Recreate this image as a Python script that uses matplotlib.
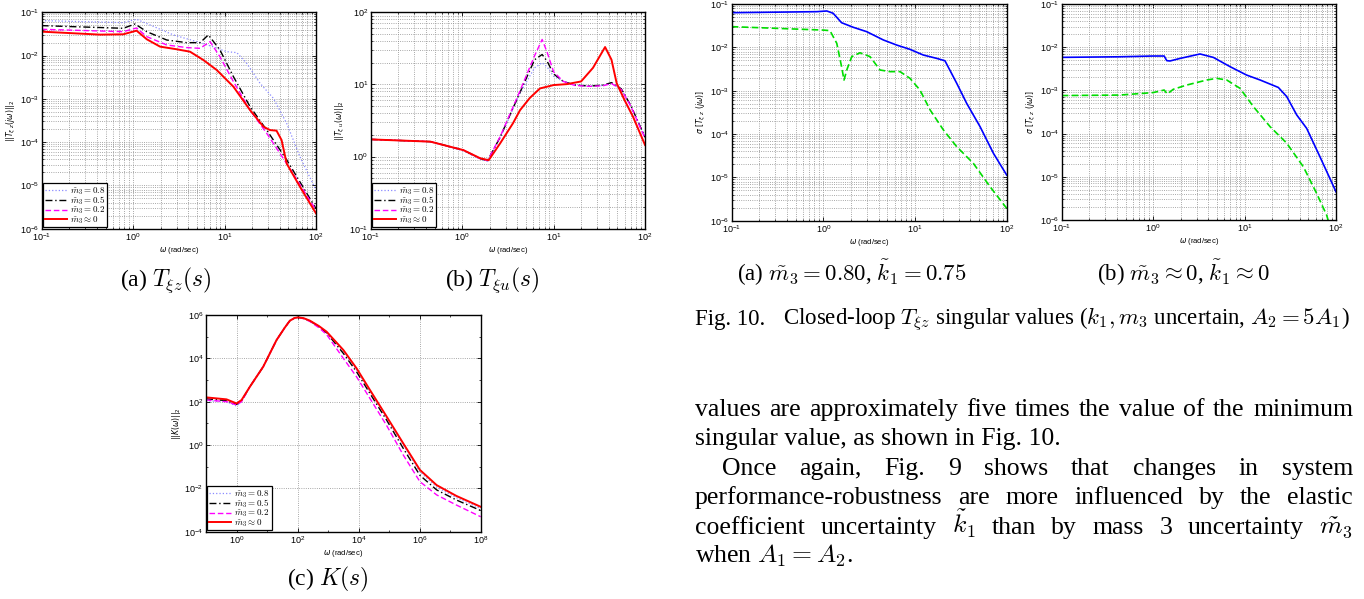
import matplotlib
matplotlib.use("Agg")
import matplotlib.pyplot as plt
from matplotlib.ticker import LogLocator, NullFormatter

plt.rcParams["font.family"] = ["Liberation Sans", "DejaVu Sans"]
plt.rcParams["mathtext.fontset"] = "dejavusans"

# ---------------- data ----------------
# (a) ||T_xi_z(jw)||_2
tz_w_08 = [0.1, 0.78, 1.09, 1.53, 2.76, 4.96, 7.5, 10.5, 13.6, 17.5, 24.4, 34.2, 47.8, 66.8, 100]
tz_08 = [0.0642, 0.0577, 0.069, 0.051, 0.030, 0.021, 0.016, 0.0123, 0.0117, 0.0066, 0.0023, 0.00103, 2.7e-4, 4.6e-5, 7.8e-6]
tz_w_05 = [0.1, 0.78, 1.05, 1.41, 2.33, 3.85, 5.4, 6.65, 8.9, 12.5, 19, 28.9, 47.8, 100]
tz_05 = [0.0492, 0.0427, 0.0537, 0.0357, 0.0229, 0.0199, 0.0199, 0.030, 0.0135, 0.00326, 6.6e-4, 1.9e-4, 3.9e-5, 2.9e-6]
tz_w_02 = [0.1, 0.78, 1.09, 1.41, 2.33, 3.85, 5.4, 6.94, 8.9, 12.5, 19, 28.9, 47.8, 100]
tz_02 = [0.0405, 0.0357, 0.0435, 0.0274, 0.0176, 0.0153, 0.0147, 0.021, 0.0094, 0.0025, 5.5e-4, 1.6e-4, 3.2e-5, 2.7e-6]
tz_w_00 = [0.1, 0.435, 0.78, 1.09, 1.41, 1.97, 2.99, 4.19, 5.86, 8.2, 12.5, 19, 26.6, 31.4, 37, 42, 47.8, 66.8, 100]
tz_00 = [0.0357, 0.0305, 0.031, 0.0377, 0.0238, 0.0161, 0.014, 0.0123, 0.0079, 0.00465, 0.00191, 5.5e-4, 2.28e-4, 1.9e-4, 1.84e-4, 1.12e-4, 3.2e-5, 9.3e-6, 2.26e-6]

# (b) ||T_xi_u(w)||_2
tu_w = [0.1, 0.45, 1.03, 1.57, 1.9, 2.6, 4.3, 6.2, 7.5, 8.5, 10, 12.8, 17, 25, 35, 43, 55, 70, 100]
tu_08 = [1.73, 1.61, 1.2, 0.92, 0.86, 1.8, 7.6, 17, 20, 17.5, 13, 11, 9.8, 9.5, 9.7, 10.4, 8.6, 5.0, 1.9]
tu_05 = [1.73, 1.61, 1.23, 0.94, 0.88, 1.85, 7.8, 22, 26, 21, 14, 11, 9.8, 9.5, 9.8, 10.6, 8.7, 5.1, 1.85]
tu_02 = [1.73, 1.61, 1.23, 0.94, 0.88, 1.88, 8.2, 25, 42, 28, 15, 11, 9.7, 9.4, 9.6, 10.3, 8.5, 5.0, 1.8]
tu_w_00 = [0.1, 0.45, 1.03, 1.57, 1.95, 2.6, 3.6, 4.3, 5.5, 7.1, 10, 14, 20, 27, 36.6, 43, 49, 60, 74, 100]
tu_00 = [1.73, 1.61, 1.23, 0.95, 0.89, 1.52, 2.9, 4.4, 6.5, 8.8, 9.8, 10.1, 11, 17, 33, 22, 10.4, 6, 3.56, 1.45]

# (c) ||K(w)||_2
k_w = [0.1, 0.47, 1.0, 1.46, 2.74, 7.5, 20.5, 38, 56, 80, 105, 160, 254, 500, 893, 3160, 8560, 23500, 83000, 2.9e5, 1.02e6, 3.6e6, 1.6e7, 1e8]
k_08 = [110, 100, 63, 100, 490, 4120, 7.0e4, 2.6e5, 5.47e5, 7.3e5, 7.8e5, 7.0e5, 5.4e5, 3.0e5, 1.6e5, 2.1e4, 3000, 300, 17.5, 1.0, 0.058, 0.0115, 0.0037, 0.00118]
k_05 = [135, 112, 75, 110, 490, 4120, 7.0e4, 2.6e5, 5.47e5, 7.3e5, 7.8e5, 6.9e5, 5.3e5, 2.9e5, 1.5e5, 1.7e4, 2400, 240, 14, 0.7, 0.04, 0.0085, 0.0029, 0.00095]
k_02 = [120, 100, 71, 100, 490, 4120, 7.0e4, 2.6e5, 5.47e5, 7.3e5, 7.8e5, 6.7e5, 5.0e5, 2.6e5, 1.26e5, 1.0e4, 1410, 141, 7.9, 0.347, 0.0204, 0.005, 0.0017, 0.00049]
k_00 = [158, 128, 83, 119, 490, 4120, 7.0e4, 2.6e5, 5.47e5, 7.3e5, 7.8e5, 7.1e5, 5.47e5, 3.1e5, 1.7e5, 2.43e4, 3470, 347, 20.4, 1.19, 0.071, 0.0141, 0.00447, 0.00141]

# Fig. 10 (a): m3 = 0.80, k1 = 0.75
sa_w_max = [0.1, 0.845, 1.09, 1.28, 1.58, 2.12, 2.97, 4.51, 6.3, 8.8, 12.3, 17.2, 21.2, 28.5, 36.6, 51.2, 71.6, 100]
sa_max = [0.063, 0.0665, 0.069, 0.061, 0.037, 0.029, 0.023, 0.0148, 0.0113, 0.009, 0.00665, 0.00557, 0.0049, 0.00148, 5.1e-4, 1.48e-4, 3.6e-5, 1.13e-5]
sa_w_min = [0.1, 1.0, 1.18, 1.4, 1.58, 1.68, 1.8, 2.04, 2.51, 3.23, 4.15, 5.33, 6.86, 8.8, 11.3, 14.6, 20.4, 28.5, 43.3, 65.8, 100]
sa_min = [0.030, 0.025, 0.0243, 0.0124, 0.00358, 0.00176, 0.003, 0.0061, 0.0075, 0.0061, 0.003, 0.00275, 0.00275, 0.00193, 0.00104, 3.6e-4, 1.24e-4, 5.1e-5, 2.1e-5, 6.1e-6, 1.93e-6]

# Fig. 10 (b): m3 ~ 0, k1 ~ 0
sb_w_max = [0.1, 0.43, 1.0, 1.32, 1.41, 1.53, 1.97, 3.26, 4.56, 6.93, 10.5, 14.8, 23.4, 28.9, 37.2, 47.8, 66.8, 100]
sb_max = [0.00582, 0.0060, 0.00625, 0.00625, 0.00488, 0.0048, 0.0055, 0.00697, 0.0058, 0.00355, 0.00227, 0.00174, 0.00117, 7.2e-4, 2.7e-4, 1.32e-4, 2.9e-5, 4.5e-6]
sb_w_min = [0.1, 0.43, 1.0, 1.32, 1.43, 1.66, 2.33, 3.86, 4.96, 6.38, 8.9, 12.5, 19, 28.9, 44, 61.5, 79, 86]
sb_min = [7.6e-4, 7.8e-4, 8.9e-4, 0.00102, 8.3e-4, 0.00106, 0.00133, 0.00174, 0.0019, 0.00174, 0.00112, 4.2e-4, 1.45e-4, 6e-5, 1.7e-5, 4.1e-6, 1.3e-6, 7e-7]

legend_labels = [r"$\tilde{m}_3 = 0.8$", r"$\tilde{m}_3 = 0.5$", r"$\tilde{m}_3 = 0.2$", r"$\tilde{m}_3 \approx 0$"]

# ---------------- figure ----------------
W, H = 1364, 599
fig = plt.figure(figsize=(W / 100, H / 100), dpi=100)


def box(l, t, r, b):
    return fig.add_axes([l / W, 1 - b / H, (r - l) / W, (b - t) / H])


def style(ax, xlim, ylim, ylabel, step=10):
    ax.set_xscale("log")
    ax.set_yscale("log")
    ax.set_xlim(xlim)
    ax.set_ylim(ylim)
    ax.xaxis.set_major_locator(LogLocator(base=step, numticks=30))
    ax.yaxis.set_major_locator(LogLocator(base=step, numticks=30))
    if step == 10:
        ax.grid(True, which="both", ls=":", lw=0.6, color="#8c8c8c")
    else:
        for a in (ax.xaxis, ax.yaxis):
            a.set_minor_locator(LogLocator(base=10, subs=(1.0,), numticks=30))
            a.set_minor_formatter(NullFormatter())
        ax.grid(True, which="major", ls=":", lw=0.6, color="#8c8c8c")
    ax.tick_params(which="both", direction="in", top=True, right=True, labelsize=6.5, pad=2)
    ax.tick_params(which="major", length=3, width=0.6)
    ax.tick_params(which="minor", length=1.5, width=0.5)
    for s in ax.spines.values():
        s.set_linewidth(1.0)
    ax.set_xlabel(r"$\omega$ (rad/sec)", fontsize=5.5, labelpad=1)
    ax.set_ylabel(ylabel, fontsize=5.5, labelpad=1)


def four(ax, w8, v8, w5, v5, w2, v2, w0, v0):
    ax.plot(w8, v8, ls=":", color="#8a8aff", lw=0.9, label=legend_labels[0])
    ax.plot(w5, v5, color="black", lw=1.0, dashes=(5, 2, 1, 2), label=legend_labels[1])
    ax.plot(w2, v2, color="#ff00ff", lw=1.0, dashes=(4, 2), label=legend_labels[2])
    ax.plot(w0, v0, color="#ff0000", lw=1.4, label=legend_labels[3])
    leg = ax.legend(loc="lower left", prop=dict(size=6.5, family="Liberation Serif", math_fontfamily="cm"),
                    handlelength=2.4, borderpad=0.2, labelspacing=-0.25, handletextpad=0.4,
                    fancybox=False, edgecolor="black", framealpha=1, borderaxespad=0.15)
    leg.get_frame().set_linewidth(0.9)


ax_a = box(41.7, 12.3, 316, 228.7)
four(ax_a, tz_w_08, tz_08, tz_w_05, tz_05, tz_w_02, tz_02, tz_w_00, tz_00)
style(ax_a, (0.1, 100), (1e-6, 1e-1), r"$||T_{\xi\ z}(j\omega)||_2$")

ax_b = box(370.7, 12.3, 645, 228.7)
four(ax_b, tu_w, tu_08, tu_w, tu_05, tu_w, tu_02, tu_w_00, tu_00)
style(ax_b, (0.1, 100), (0.1, 100), r"$||T_{\xi\ u}(\omega)||_2$")

ax_c = box(206, 315, 480.7, 531.7)
four(ax_c, k_w, k_08, k_w, k_05, k_w, k_02, k_w, k_00)
style(ax_c, (0.1, 1e8), (1e-4, 1e6), r"$||K(\omega)||_2$", step=100)

ax_d = box(731.7, 4, 1006.7, 220.7)
ax_d.plot(sa_w_max, sa_max, color="#0000ff", lw=1.2)
ax_d.plot(sa_w_min, sa_min, color="#00dd00", lw=1.2, dashes=(4, 2))
style(ax_d, (0.1, 100), (1e-6, 1e-1), r"$\sigma\ [T_{\xi\ z}\ (j\omega)]$")

ax_e = box(1061.7, 4, 1336, 220)
ax_e.plot(sb_w_max, sb_max, color="#0000ff", lw=1.2)
ax_e.plot(sb_w_min, sb_min, color="#00dd00", lw=1.2, dashes=(4, 2))
style(ax_e, (0.1, 100), (1e-6, 1e-1), r"$\sigma\ [T_{\xi\ z}\ (j\omega)]$")

# ---------------- captions and body text ----------------
serif = dict(family="Liberation Serif", math_fontfamily="cm")


def put(x, y, s, size, ha="left"):
    return fig.text(x / W, 1 - y / H, s, fontsize=size, ha=ha, va="baseline", **serif)


put(166, 286, r"(a) $T_{\xi z}(s)$", 17, "center")
put(492, 286, r"(b) $T_{\xi u}(s)$", 17, "center")
put(328, 585, r"(c) $K(s)$", 17, "center")
put(852, 281, r"(a) $\tilde{m}_3 = 0.80$, $\tilde{k}_1 = 0.75$", 16.5, "center")
put(1183, 281, r"(b) $\tilde{m}_3 \approx 0$, $\tilde{k}_1 \approx 0$", 16.5, "center")
put(695, 325, "Fig. 10.", 16.5)
put(783, 325, r"Closed-loop $T_{\xi z}$ singular values ($k_1, m_3$ uncertain, $A_2 = 5A_1$)", 16.5)

renderer = fig.canvas.get_renderer()


def justify(words, x0, x1, y, size):
    txts = [put(0, y, w, size) for w in words]
    widths = [t.get_window_extent(renderer).width for t in txts]
    gap = (x1 - x0 - sum(widths)) / (len(words) - 1)
    x = x0
    for t, w in zip(txts, widths):
        t.set_x(x / W)
        x += w + gap


body = 18.5
justify("values are approximately five times the value of the minimum".split(), 695, 1353, 416, body)
put(695, 445.4, "singular value, as shown in Fig. 10.", body)
justify("Once again, Fig. 9 shows that changes in system".split(), 722, 1353, 474.8, body)
justify("performance-robustness are more influenced by the elastic".split(), 695, 1353, 504.2, body)
justify(["coefficient", "uncertainty", r"$\tilde{k}_1$", "than", "by", "mass", "3", "uncertainty", r"$\tilde{m}_3$"],
        695, 1353, 533.6, body)
put(695, 563, r"when $A_1 = A_2$.", body)

fig.savefig("out.png", dpi=100)
